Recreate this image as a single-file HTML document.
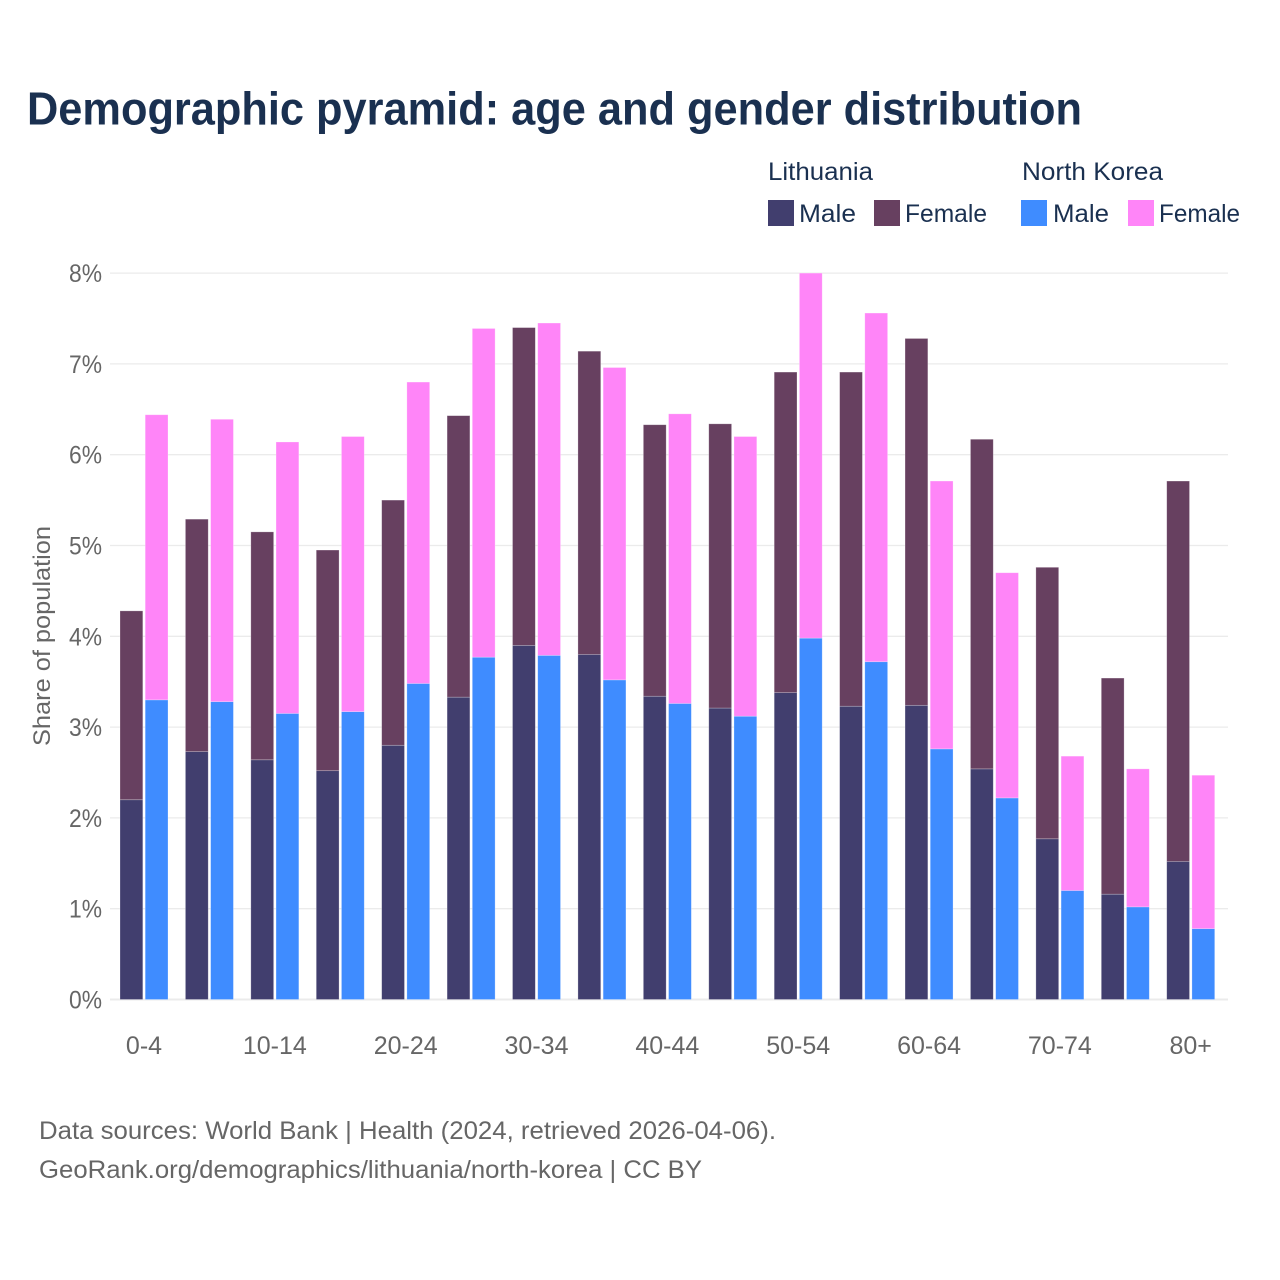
<!DOCTYPE html>
<html lang="en">
<head>
<meta charset="utf-8">
<title>Demographic pyramid</title>
<style>
html,body{margin:0;padding:0;background:#fff;width:1280px;height:1280px;overflow:hidden}
svg{display:block;font-family:"Liberation Sans",sans-serif}
</style>
</head>
<body>
<svg id="chart" width="1280" height="1280" viewBox="0 0 1280 1280">
  <rect width="1280" height="1280" fill="#fff"/>
  <text x="27" y="124.5" font-size="46" font-weight="700" fill="#1a3050" textLength="1055" lengthAdjust="spacingAndGlyphs">Demographic pyramid: age and gender distribution</text>

  <text x="768" y="180" font-size="25" fill="#1a3050" textLength="105" lengthAdjust="spacingAndGlyphs">Lithuania</text>
  <text x="1022" y="180" font-size="25" fill="#1a3050" textLength="141" lengthAdjust="spacingAndGlyphs">North Korea</text>

  <rect x="768" y="200" width="26" height="26" fill="#413e6e"/>
  <text x="799" y="222" font-size="25" fill="#1a3050" textLength="57" lengthAdjust="spacingAndGlyphs">Male</text>
  <rect x="874" y="200" width="26" height="26" fill="#674060"/>
  <text x="905" y="222" font-size="25" fill="#1a3050" textLength="82" lengthAdjust="spacingAndGlyphs">Female</text>
  <rect x="1021" y="200" width="26" height="26" fill="#3f8cff"/>
  <text x="1053" y="222" font-size="25" fill="#1a3050" textLength="56" lengthAdjust="spacingAndGlyphs">Male</text>
  <rect x="1128" y="200" width="26" height="26" fill="#ff85f8"/>
  <text x="1159" y="222" font-size="25" fill="#1a3050" textLength="81" lengthAdjust="spacingAndGlyphs">Female</text>

  <g id="grid"></g>
  <g id="yticks"></g>
  <g id="bars"></g>
  <g id="xticks"></g>

  <text transform="translate(50,636) rotate(-90)" text-anchor="middle" font-size="24" fill="#666" textLength="220" lengthAdjust="spacingAndGlyphs">Share of population</text>

  <text x="39" y="1139" font-size="25" fill="#666" textLength="737" lengthAdjust="spacingAndGlyphs">Data sources: World Bank | Health (2024, retrieved 2026-04-06).</text>
  <text x="39" y="1178" font-size="25" fill="#666" textLength="663" lengthAdjust="spacingAndGlyphs">GeoRank.org/demographics/lithuania/north-korea | CC BY</text>
</svg>
<script>
const categories = ["0-4","5-9","10-14","15-19","20-24","25-29","30-34","35-39","40-44","45-49","50-54","55-59","60-64","65-69","70-74","75-79","80+"];
const xTickLabels = ["0-4","10-14","20-24","30-34","40-44","50-54","60-64","70-74","80+"];
const yTickValues = [0,1,2,3,4,5,6,7,8];
const lithuaniaMale = [2.20,2.73,2.64,2.52,2.80,3.33,3.90,3.80,3.34,3.21,3.38,3.23,3.24,2.54,1.77,1.16,1.52];
const lithuaniaFemale = [2.08,2.56,2.51,2.43,2.70,3.10,3.50,3.34,2.99,3.13,3.53,3.68,4.04,3.63,2.99,2.38,4.19];
const northKoreaMale = [3.30,3.28,3.15,3.17,3.48,3.77,3.79,3.52,3.26,3.12,3.98,3.72,2.76,2.22,1.20,1.02,0.78];
const northKoreaFemale = [3.14,3.11,2.99,3.03,3.32,3.62,3.66,3.44,3.19,3.08,4.02,3.84,2.95,2.48,1.48,1.52,1.69];

const NS = "http://www.w3.org/2000/svg";
const yAxis = v => 999.5 - v * 90.8;
const groupCenter = i => 144 + i * 65.42;
const barWidth = 22.8;
const barOffset = 24.4;

function make(tag, attrs, parent) {
  const el = document.createElementNS(NS, tag);
  for (const k in attrs) el.setAttribute(k, attrs[k]);
  parent.appendChild(el);
  return el;
}

const gridG = document.getElementById("grid");
const ytG = document.getElementById("yticks");
yTickValues.forEach(v => {
  const line = make("line", {x1:110, x2:1228, y1:yAxis(v), y2:yAxis(v), stroke:"#ebebeb", "stroke-width":v === 0 ? 2 : 1.3}, gridG);
  
  
  const t = make("text", {x:102, y:yAxis(v) + 9, "text-anchor":"end", "font-size":25, fill:"#666", textLength:33, lengthAdjust:"spacingAndGlyphs"}, ytG);
  t.textContent = v + "%";
  
  
});

const barsG = document.getElementById("bars");
function drawBar(x, base, value, fill) {
  const top = yAxis(base + value);
  const r = make("rect", {x:x, y:top, width:barWidth, height:yAxis(base) - top, fill:fill, stroke:"#ffffff", "stroke-opacity":0.35, "stroke-width":0.7}, barsG);
  
  
}
categories.forEach((c, i) => {
  const cx = groupCenter(i);
  const lx = cx - barOffset + 0.4;
  const nx = cx + 1.2;
  drawBar(lx, 0, lithuaniaMale[i], "#413e6e");
  drawBar(lx, lithuaniaMale[i], lithuaniaFemale[i], "#674060");
  drawBar(nx, 0, northKoreaMale[i], "#3f8cff");
  drawBar(nx, northKoreaMale[i], northKoreaFemale[i], "#ff85f8");
});

const xtG = document.getElementById("xticks");
xTickLabels.forEach(label => {
  const i = categories.indexOf(label);
  const t = make("text", {x:groupCenter(i), y:1054, "text-anchor":"middle", "font-size":25, fill:"#666"}, xtG);
  t.textContent = label;
  
  
});
</script>
</body>
</html>
